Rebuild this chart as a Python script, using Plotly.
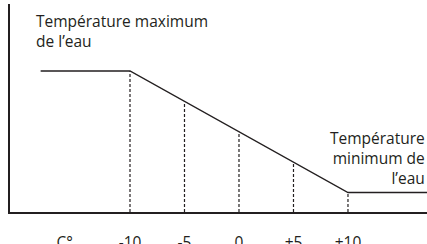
import plotly.graph_objects as go

# data
curve_x = [-18.2, -10, 10, 17.3]
curve_y = [1, 1, 0, 0]
tick_vals = [-16, -10, -5, 0, 5, 10]
tick_text = ["C°", "-10", "-5", "0", "+5", "+10"]
guide_x = [-10, -5, 0, 5, 10]
guide_top = [1, 0.75, 0.5, 0.25, 0]
y_floor = -0.16

ink = "#231f20"
fig = go.Figure()
for gx, gy in zip(guide_x, guide_top):
    fig.add_trace(go.Scatter(x=[gx, gx], y=[y_floor, gy], mode="lines",
                             line=dict(color=ink, width=1.2, dash="3px,2px"),
                             hoverinfo="skip", showlegend=False))
fig.add_trace(go.Scatter(x=curve_x, y=curve_y, mode="lines",
                         line=dict(color=ink, width=1.4),
                         hoverinfo="skip", showlegend=False))

font = "Open Sans"
fs = 15.5
fig.add_annotation(x=0.0576, xref="paper", y=0.981, yref="paper",
                   text="Température maximum<br>de l’eau", showarrow=False,
                   xanchor="left", yanchor="top", align="left",
                   font=dict(family=font, size=fs, color=ink))
fig.add_annotation(x=1, xref="paper", y=0.26, yref="paper",
                   text="Température<br>minimum de<br>l’eau", showarrow=False,
                   xanchor="right", yanchor="middle", align="right",
                   font=dict(family=font, size=fs, color=ink))

fig.update_layout(
    width=427, height=244,
    margin=dict(l=10, r=0, t=4, b=32, autoexpand=False),
    paper_bgcolor="white", plot_bgcolor="white",
    font=dict(family=font, size=fs, color=ink),
    xaxis=dict(range=[-21.01, 17.25], showgrid=False, zeroline=False,
               showline=True, linecolor=ink, linewidth=1.5,
               tickvals=tick_vals, ticktext=tick_text,
               ticks="outside", ticklen=16, tickcolor="rgba(0,0,0,0)",
               automargin=False, fixedrange=True),
    yaxis=dict(range=[y_floor, 1.551], showgrid=False, zeroline=False,
               showline=True, linecolor=ink, linewidth=1.5,
               showticklabels=False, ticks="", automargin=False,
               fixedrange=True),
)
fig.write_html("out.html", config={"displayModeBar": False},
               post_script="document.body.style.margin='0';document.body.style.overflow='hidden';")
